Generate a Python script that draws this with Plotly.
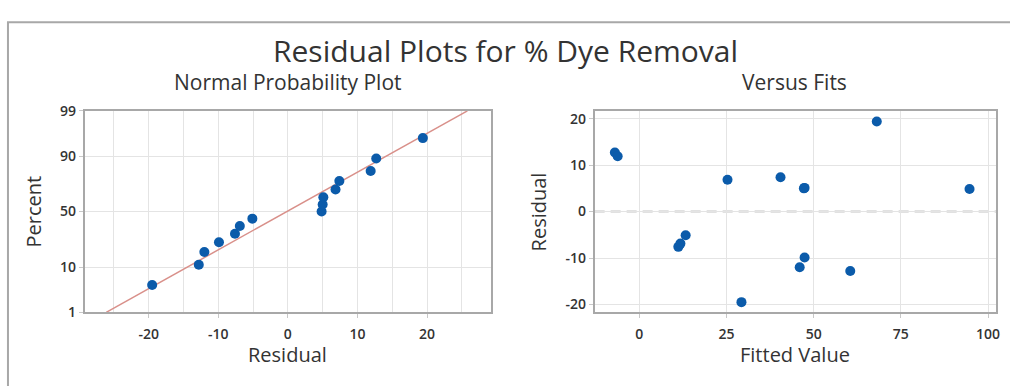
import plotly.graph_objects as go
from statistics import NormalDist

# ---- data ----
fitted_values = [-7.0, -6.2, 11.2, 11.8, 13.3, 25.3, 29.3, 40.5, 47.4, 47.2, 46.0, 47.4, 60.5, 68.1, 94.7]
residuals = [12.7, 11.9, -7.6, -6.9, -5.1, 6.85, -19.5, 7.4, 5.1, 5.0, -12.0, -9.9, -12.8, 19.4, 4.85]
# Normal probability plot: sorted residuals vs. plotting percent
percent_positions = [4.5, 11.0, 17.5, 24.0, 30.5, 37.0, 43.5, 50.0, 56.5, 63.0, 69.5, 76.0, 82.5, 89.0, 95.5]
fit_line_x = [-26.1, 25.8]
fit_line_pct = [1, 99]
prob_ticks = [1, 10, 50, 90, 99]
resid_ticks_left = [-20, -10, 0, 10, 20]
fits_ticks = [0, 25, 50, 75, 100]
resid_ticks_right = [-20, -10, 0, 10, 20]

title_text = "Residual Plots for % Dye Removal"
sub_left = "Normal Probability Plot"
sub_right = "Versus Fits"

nd = NormalDist()
z = lambda p: nd.inv_cdf(p / 100.0)

W, H = 1010, 386
px = lambda x: x / W
py = lambda y: (H - y) / H

BLUE = "#0B5BAA"
RED = "#D9908A"
GRID = "#E4E4E4"
FRAME = "#A8A8A8"
TXT = "#333333"
FONT = "Open Sans"

fig = go.Figure()

sorted_res = sorted(residuals)
fig.add_trace(go.Scatter(x=fit_line_x, y=[z(p) for p in fit_line_pct], mode="lines",
                         line=dict(color=RED, width=1.5), xaxis="x", yaxis="y",
                         showlegend=False, hoverinfo="skip"))
fig.add_trace(go.Scatter(x=sorted_res, y=[z(p) for p in percent_positions], mode="markers",
                         marker=dict(color=BLUE, size=10), xaxis="x", yaxis="y",
                         showlegend=False))
fig.add_trace(go.Scatter(x=fitted_values, y=residuals, mode="markers",
                         marker=dict(color=BLUE, size=10), xaxis="x2", yaxis="y2",
                         showlegend=False))

tickfont = dict(family=FONT, size=14, color=TXT, weight=600)
axis_common = dict(showline=True, linecolor=FRAME, linewidth=1.5, mirror=True,
                   gridcolor=GRID, gridwidth=1, zeroline=False, tickfont=tickfont,
                   ticks="outside", ticklen=4, tickcolor="#C8C8C8")

lab = lambda v: str(v).replace("\u2212", "-")

fig.update_layout(
    width=W, height=H,
    margin=dict(l=0, r=0, t=0, b=0),
    paper_bgcolor="white", plot_bgcolor="white",
    xaxis=dict(domain=[px(85), px(493)], range=[-29.2, 29.2], anchor="y",
               tickvals=resid_ticks_left, ticktext=[lab(v) for v in resid_ticks_left],
               minor=dict(dtick=5, tick0=0, showgrid=True, gridcolor=GRID, ticks=""),
               ticklabelstandoff=4, **axis_common),
    yaxis=dict(domain=[py(318), py(106)], range=[z(1), z(99)], anchor="x",
               tickvals=[z(p) for p in prob_ticks], ticktext=[str(p) for p in prob_ticks],
               **axis_common),
    xaxis2=dict(domain=[px(597), px(1000)], range=[-12.8, 102.3], anchor="y2",
                tickvals=fits_ticks, ticktext=[lab(v) for v in fits_ticks],
                ticklabelstandoff=4, **axis_common),
    yaxis2=dict(domain=[py(318), py(106)], range=[-21.7, 21.7], anchor="x2",
                tickvals=resid_ticks_right, ticktext=[lab(v) for v in resid_ticks_right],
                **axis_common),
    font=dict(family=FONT, color=TXT),
)

# dashed reference line at zero in Versus Fits
fig.add_shape(type="line", xref="x2 domain", yref="y2", x0=0, x1=1, y0=0, y1=0,
              line=dict(color="#C4C4C4", width=2, dash="10px,6px"), layer="below")

# outer frame
fig.add_shape(type="rect", xref="paper", yref="paper", x0=px(8), x1=1.05, y0=-0.05, y1=py(13),
              line=dict(color=FRAME, width=2))

def ann(text, x, y, size, angle=0, weight=400):
    fig.add_annotation(text=text, x=px(x), y=py(y), xref="paper", yref="paper",
                       showarrow=False, textangle=angle,
                       font=dict(family=FONT, size=size, color=TXT, weight=weight),
                       xanchor="center", yanchor="middle")

ann(title_text, 508, 43, 30, weight=500)
ann(sub_left, 289, 76, 21, weight=500)
ann(sub_right, 798, 76, 21, weight=500)
ann("Residual", 289, 362, 20, weight=500)
ann("Fitted Value", 798, 362, 20, weight=500)
ann("Percent", 34, 212, 20, angle=-90, weight=500)
ann("Residual", 541, 212, 20, angle=-90, weight=500)

fig.write_html("out.html")
